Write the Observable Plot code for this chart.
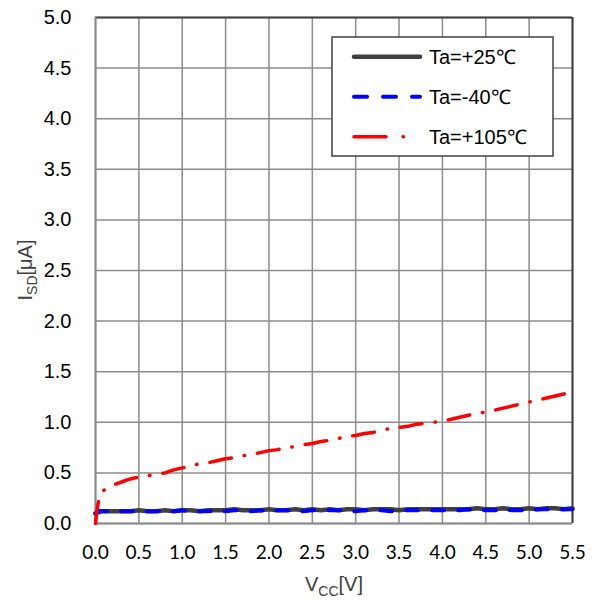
<!DOCTYPE html>
<html><head><meta charset="utf-8">
<script src="https://cdn.jsdelivr.net/npm/d3@7"></script>
<script src="https://cdn.jsdelivr.net/npm/@observablehq/plot@0.6"></script>
<style>body{margin:0;background:#fff}</style>
</head><body><div id="chart"></div>
<script>
const xTicks = [0,0.5,1,1.5,2,2.5,3,3.5,4,4.5,5,5.5];
const yTicks = [0,0.5,1,1.5,2,2.5,3,3.5,4,4.5,5];
const seriesNames = ["Ta=+25℃","Ta=-40℃","Ta=+105℃"];
const vcc = [0,0.02,0.04,0.06,0.1,0.2,0.3,0.4,0.5,0.6,0.7,0.8,0.9,1.0,1.1,1.2,1.3,1.4,1.5,1.6,1.7,1.8,1.9,2.0,2.1,2.2,2.3,2.4,2.5,2.6,2.7,2.8,2.9,3.0,3.1,3.2,3.3,3.4,3.5,3.6,3.7,3.8,3.9,4.0,4.1,4.2,4.3,4.4,4.5,4.6,4.7,4.8,4.9,5.0,5.1,5.2,5.3,5.4,5.5];
const i25 = [0.10,0.11,0.11,0.12,0.12,0.12,0.12,0.12,0.13,0.12,0.12,0.13,0.12,0.13,0.13,0.12,0.13,0.13,0.13,0.14,0.13,0.13,0.13,0.14,0.13,0.13,0.14,0.13,0.14,0.13,0.14,0.13,0.14,0.14,0.13,0.14,0.14,0.14,0.13,0.14,0.14,0.14,0.14,0.14,0.14,0.14,0.14,0.15,0.14,0.14,0.15,0.14,0.14,0.15,0.14,0.15,0.15,0.14,0.15];
const im40 = [0.10,0.11,0.12,0.12,0.12,0.12,0.12,0.12,0.12,0.12,0.12,0.12,0.12,0.13,0.12,0.12,0.12,0.13,0.12,0.13,0.13,0.12,0.13,0.12,0.13,0.13,0.13,0.12,0.13,0.13,0.13,0.13,0.13,0.12,0.13,0.13,0.13,0.12,0.13,0.13,0.13,0.13,0.13,0.13,0.13,0.13,0.14,0.13,0.13,0.13,0.14,0.13,0.13,0.13,0.14,0.14,0.14,0.14,0.14];
const i105 = [0.00,0.15,0.24,0.30,0.33,0.38,0.41,0.44,0.46,0.47,0.49,0.50,0.53,0.55,0.57,0.59,0.60,0.62,0.64,0.65,0.67,0.68,0.70,0.72,0.73,0.75,0.76,0.78,0.79,0.81,0.82,0.84,0.86,0.87,0.89,0.90,0.92,0.94,0.95,0.96,0.98,0.99,1.00,1.01,1.03,1.05,1.07,1.09,1.10,1.12,1.14,1.16,1.18,1.20,1.22,1.24,1.26,1.28,1.31];

const colors = ["#404040","#0000ff","#ff0000"];
const dashes = [null,"12,14","22,13,0.5,13"];
const widths = [4.5,4,3.5];
const seriesVals = [i25, im40, i105];
const tables = seriesVals.map(v => vcc.map((x,i)=>({x, y:v[i]})));

const gridC = "#8c8c8c";
const chart = Plot.plot({
  width: 594, height: 602,
  marginLeft: 95, marginRight: 22, marginTop: 17, marginBottom: 79,
  style: {fontFamily: "'Liberation Sans', Arial, sans-serif", background: "#fff", color: "#000"},
  x: {domain: [0, 5.5], label: null},
  y: {domain: [0, 5], label: null},
  marks: [
    Plot.gridX(xTicks, {stroke: gridC, strokeOpacity: 1, strokeWidth: 1.5}),
    Plot.gridY(yTicks, {stroke: gridC, strokeOpacity: 1, strokeWidth: 1.5}),
    Plot.ruleX([5.5], {stroke: "#404040", strokeWidth: 2}),
    Plot.ruleY([5], {stroke: "#404040", strokeWidth: 2}),
    Plot.ruleX([0], {stroke: gridC, strokeWidth: 2}),
    Plot.ruleY([0], {stroke: gridC, strokeWidth: 2}),
    Plot.axisX(xTicks, {tickSize: 0, tickPadding: 22, tickFormat: d3.format(".1f"), fontFamily: "Lato, sans-serif", fontSize: 19, fill: "#000", label: null}),
    Plot.axisY(yTicks, {tickSize: 0, tickPadding: 24, tickFormat: d3.format(".1f"), fontSize: 20, fill: "#000", label: null}),
    ...tables.map((t,k) => Plot.line(t, {x: "x", y: "y", stroke: colors[k], strokeWidth: widths[k], strokeDasharray: dashes[k], strokeLinecap: "round", strokeLinejoin: "round"}))
  ]
});
document.getElementById("chart").appendChild(chart);

const svg = d3.select(chart);
const ff = "'Liberation Sans', Arial, sans-serif";
// axis titles
const xl = svg.append("text").attr("x", 334).attr("y", 591).attr("text-anchor","middle")
  .attr("font-size", 20).attr("fill","#404040").attr("font-family", ff);
xl.append("tspan").text("V");
xl.append("tspan").attr("font-size", 14).attr("dy", 5).text("CC");
xl.append("tspan").attr("dy", -5).text("[V]");
const yl = svg.append("text").attr("transform","translate(32,270) rotate(-90)").attr("text-anchor","middle")
  .attr("font-size", 20).attr("fill","#404040").attr("font-family", ff);
yl.append("tspan").text("I");
yl.append("tspan").attr("font-size", 14).attr("dy", 5).text("SD");
yl.append("tspan").attr("dy", -5).text("[μA]");

// legend
const lg = svg.append("g");
lg.append("rect").attr("x", 332).attr("y", 37).attr("width", 221).attr("height", 119)
  .attr("fill","#fff").attr("stroke","#404040").attr("stroke-width", 1.5);
const rowsY = [56.7, 96.7, 136.7];
const legendDash = [null, "13,16", "32,17,0.5,100"];
seriesNames.forEach((name,k) => {
  lg.append("line").attr("x1", 354).attr("x2", 420).attr("y1", rowsY[k]).attr("y2", rowsY[k])
    .attr("stroke", colors[k]).attr("stroke-width", widths[k]).attr("stroke-linecap","round")
    .attr("stroke-dasharray", legendDash[k]);
  lg.append("text").attr("x", 429).attr("y", rowsY[k] + 7).attr("font-size", 20).attr("text-anchor","start")
    .attr("font-family", ff).attr("fill","#000").text(name);
});
</script>
</body></html>
